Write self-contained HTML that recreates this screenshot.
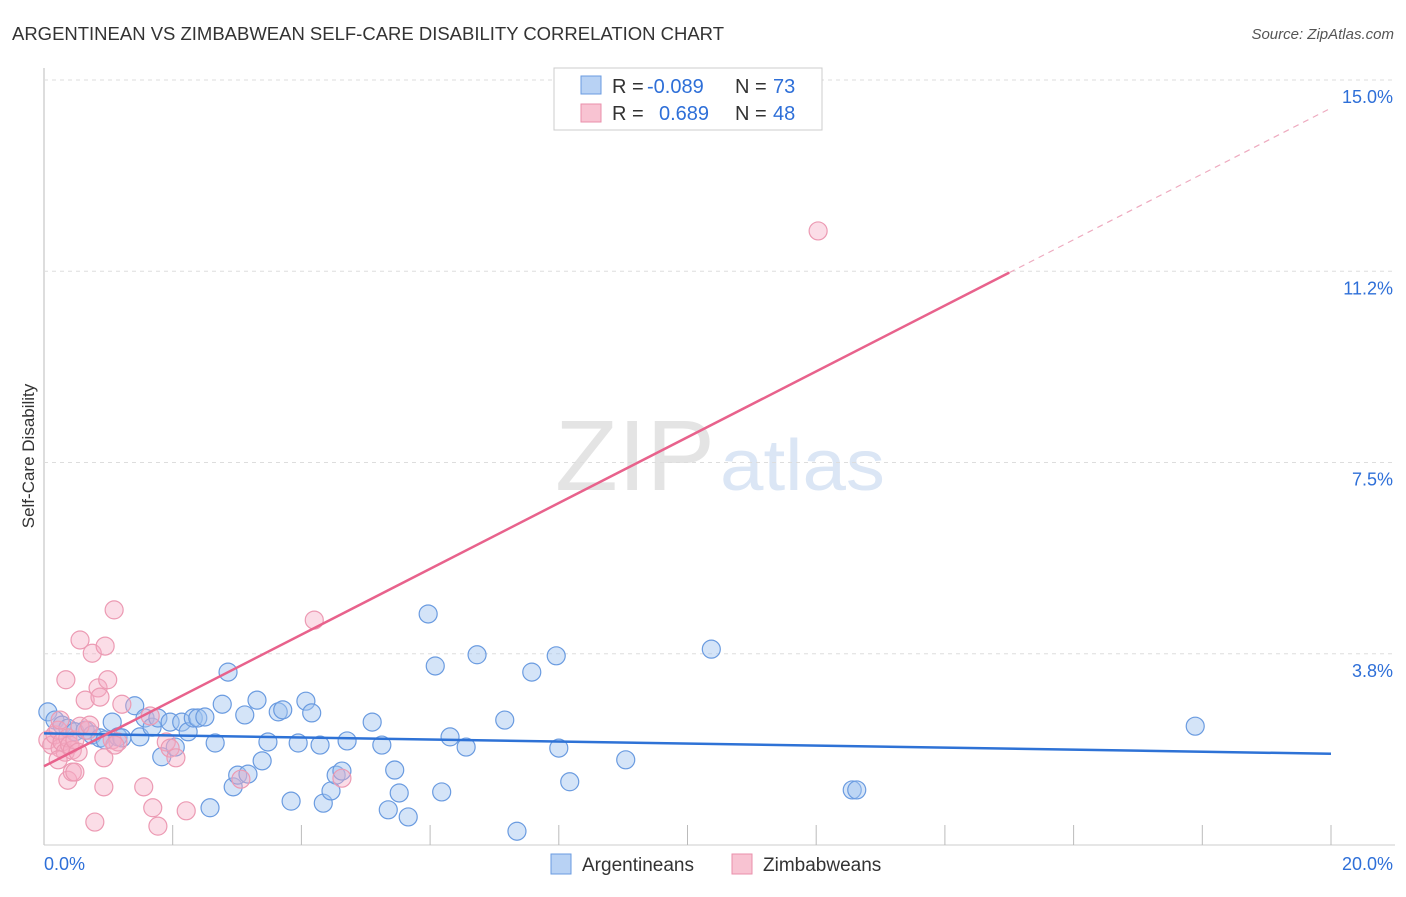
<!DOCTYPE html>
<html><head><meta charset="utf-8"><style>
body{margin:0;background:#fff;font-family:"Liberation Sans",sans-serif;}
svg text{font-family:"Liberation Sans",sans-serif;}
</style></head><body>
<svg id="chart" width="1406" height="892">
<text x="12" y="40" font-size="18" fill="#333" textLength="712" lengthAdjust="spacingAndGlyphs">ARGENTINEAN VS ZIMBABWEAN SELF-CARE DISABILITY CORRELATION CHART</text>
<text x="1394" y="39" font-size="15" fill="#555" font-style="italic" text-anchor="end">Source: ZipAtlas.com</text>
<text x="715" y="490" font-size="100" fill="#e4e4e4" text-anchor="end" font-family="Liberation Serif" textLength="160" lengthAdjust="spacingAndGlyphs">ZIP</text>
<text x="720" y="490" font-size="72" fill="#dbe6f5" textLength="165" lengthAdjust="spacingAndGlyphs">atlas</text>
<text transform="translate(34,456) rotate(-90)" font-size="17" fill="#333" text-anchor="middle">Self-Care Disability</text>
<g id="grid"></g><g id="pts"></g><g id="lines"></g>
<g>
<rect x="554" y="68" width="268" height="62" fill="#fff" stroke="#ccc"/>
<rect x="581" y="76" width="20" height="18" fill="#b8d2f4" stroke="#6a9be0"/>
<rect x="581" y="104" width="20" height="18" fill="#f8c3d2" stroke="#ea8fab"/>
<text x="612" y="93" font-size="20" fill="#333">R = <tspan x="647" fill="#2e6fd8">-0.089</tspan><tspan x="735">N = </tspan><tspan x="773" fill="#2e6fd8">73</tspan></text>
<text x="612" y="120" font-size="20" fill="#333">R = <tspan x="659" fill="#2e6fd8">0.689</tspan><tspan x="735">N = </tspan><tspan x="773" fill="#2e6fd8">48</tspan></text>
</g>
<g>
<rect x="551" y="854" width="20" height="20" fill="#b8d2f4" stroke="#6a9be0"/>
<text x="582" y="871" font-size="19" fill="#333">Argentineans</text>
<rect x="732" y="854" width="20" height="20" fill="#f8c3d2" stroke="#ea8fab"/>
<text x="763" y="871" font-size="19" fill="#333">Zimbabweans</text>
</g>
</svg>
<script>
const yTicks=[3.75,7.5,11.25,15];
const yTickLabels=["3.8%","7.5%","11.2%","15.0%"];
const xTickLabels=["0.0%","20.0%"];
const blueX=[0.06,0.17,0.28,0.37,0.48,0.64,0.75,0.87,0.95,1.06,1.15,1.21,1.41,1.49,1.57,1.68,1.77,1.83,1.96,2.04,2.14,2.24,2.32,2.39,2.50,2.58,2.66,2.77,2.86,2.94,3.01,3.12,3.17,3.31,3.39,3.48,3.64,3.71,3.84,3.95,4.07,4.16,4.29,4.34,4.46,4.54,4.63,4.71,5.10,5.25,5.35,5.45,5.52,5.66,5.97,6.08,6.18,6.31,6.56,6.73,7.16,7.35,7.58,7.96,8.00,8.17,9.04,10.37,12.56,12.63,17.89];
const blueY=[2.61,2.45,2.35,2.29,2.22,2.25,2.16,2.10,2.06,2.41,2.12,2.10,2.73,2.12,2.49,2.31,2.49,1.73,2.41,1.92,2.41,2.22,2.49,2.49,2.51,0.73,2.00,2.76,3.39,1.14,1.37,2.55,1.39,2.84,1.65,2.02,2.61,2.65,0.86,2.00,2.82,2.59,1.96,0.82,1.06,1.37,1.45,2.04,2.41,1.96,0.69,1.47,1.02,0.55,4.53,3.51,1.04,2.12,1.92,3.73,2.45,0.27,3.39,3.71,1.90,1.24,1.67,3.84,1.08,1.08,2.33];
const pinkX=[0.06,0.12,0.17,0.22,0.25,0.28,0.33,0.37,0.40,0.44,0.48,0.53,0.34,0.37,0.44,0.48,0.56,0.64,0.68,0.75,0.84,0.87,0.93,0.95,0.99,0.93,1.06,1.09,1.15,1.21,1.55,1.65,1.69,1.77,1.90,1.96,2.05,2.21,0.79,3.06,4.20,4.63,12.03,0.25,0.22,0.56,0.71,1.10];
const pinkY=[2.06,1.96,2.16,2.25,1.90,2.02,1.82,2.10,1.96,1.86,2.06,1.82,3.24,1.27,1.43,1.43,4.02,2.84,2.25,3.76,3.08,2.90,1.71,3.90,3.24,1.14,2.06,4.61,2.02,2.76,1.14,2.53,0.73,0.37,2.02,1.90,1.71,0.67,0.45,1.29,4.41,1.31,12.04,2.45,1.67,2.33,2.35,1.96];
const NS="http://www.w3.org/2000/svg";
const X0=44,X1=1331,Y0=845,Y1=80;
function sx(v){return X0+(X1-X0)*v/20;}
function sy(v){return Y0-(Y0-Y1)*v/15;}
function mk(tag,attrs,parent){const e=document.createElementNS(NS,tag);for(const k in attrs)e.setAttribute(k,attrs[k]);parent.appendChild(e);return e;}
const grid=document.getElementById('grid');
mk('line',{x1:44,y1:68,x2:44,y2:845,stroke:'#bbb'},grid);
mk('line',{x1:44,y1:845,x2:1395,y2:845,stroke:'#ccc'},grid);
yTicks.forEach((t,i)=>{
 const g=mk('line',{x1:44,y1:sy(t),x2:1395,y2:sy(t),stroke:'#ddd','stroke-dasharray':'4,4'},grid);
 
 
 const tx=mk('text',{x:1393,y:sy(t)+23,'font-size':18,fill:'#2e6fd8','text-anchor':'end'},grid);
 tx.textContent=yTickLabels[i];
 
 
});
for(let i=1;i<=10;i++){
 const l=mk('line',{x1:sx(i*2),y1:825,x2:sx(i*2),y2:845,stroke:'#bbb'},grid);
 
 
}
const xl0=mk('text',{x:44,y:870,'font-size':18,fill:'#2e6fd8'},grid);xl0.textContent=xTickLabels[0];


const xl1=mk('text',{x:1393,y:870,'font-size':18,fill:'#2e6fd8','text-anchor':'end'},grid);xl1.textContent=xTickLabels[1];


const pts=document.getElementById('pts');
blueX.forEach((x,i)=>{
 const c=mk('circle',{cx:sx(x),cy:sy(blueY[i]),r:9,fill:'rgba(160,195,240,0.45)',stroke:'#6a9be0','stroke-width':1.2},pts);
 
 
});
pinkX.forEach((x,i)=>{
 const c=mk('circle',{cx:sx(x),cy:sy(pinkY[i]),r:9,fill:'rgba(245,170,195,0.4)',stroke:'#ec9ab3','stroke-width':1.2},pts);
 
 
});
function fit(xs,ys){const n=xs.length;let mx=0,my=0;for(let i=0;i<n;i++){mx+=xs[i];my+=ys[i];}mx/=n;my/=n;let sxy=0,sxx=0;for(let i=0;i<n;i++){sxy+=(xs[i]-mx)*(ys[i]-my);sxx+=(xs[i]-mx)**2;}const b=sxy/sxx;return [my-b*mx,b];}
const lines=document.getElementById('lines');
const fb=fit(blueX,blueY);
const bl=mk('line',{x1:sx(0),y1:sy(fb[0]),x2:sx(20),y2:sy(fb[0]+fb[1]*20),stroke:'#2e72d6','stroke-width':2.5},lines);


const fp=fit(pinkX,pinkY);
const pl=mk('line',{x1:sx(0),y1:sy(fp[0]),x2:sx(15),y2:sy(fp[0]+fp[1]*15),stroke:'#e8628c','stroke-width':2.5},lines);


const pd=mk('line',{x1:sx(15),y1:sy(fp[0]+fp[1]*15),x2:sx(20),y2:sy(fp[0]+fp[1]*20),stroke:'#eeaabf','stroke-width':1.2,'stroke-dasharray':'6,5'},lines);


</script>
</body></html>
